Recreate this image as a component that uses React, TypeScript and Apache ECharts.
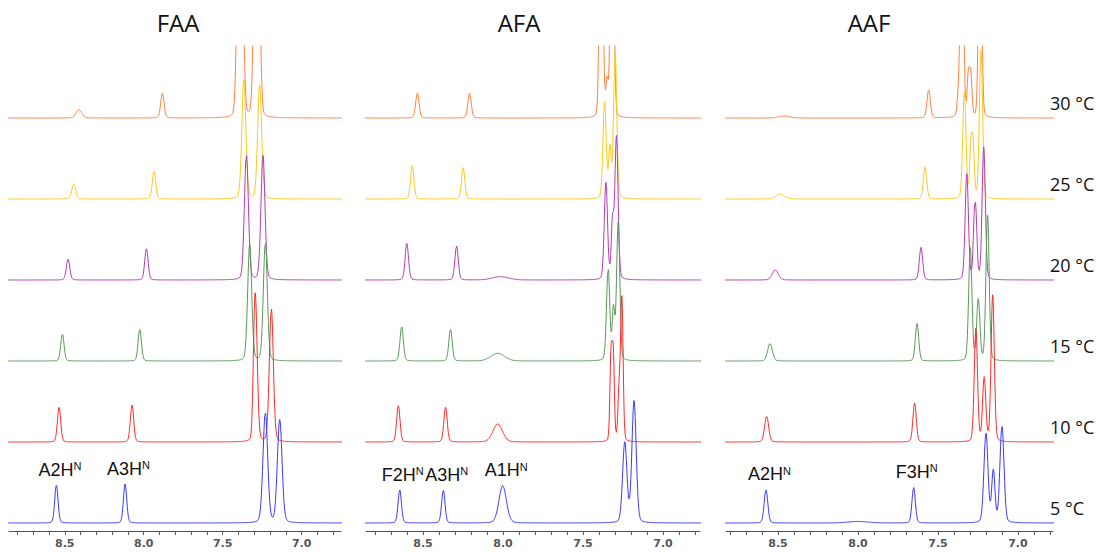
import React, { useEffect, useRef } from 'react';
import * as echarts from 'echarts';

// ---------- data ----------
const panelTitles = ['FAA', 'AFA', 'AAF'];
const temperatures = ['5 °C', '10 °C', '15 °C', '20 °C', '25 °C', '30 °C'];
// vertical stacking offset of each temperature trace (intensity units)
const traceOffsets = [8, 89, 170, 251, 332, 413];
const traceColors = ['#3a3aff', '#ff2a2a', '#5a9a5a', '#b43cb4', '#ffc820', '#ff8040'];
const xTickValues = [6.8, 6.9, 7.0, 7.1, 7.2, 7.3, 7.4, 7.5, 7.6, 7.7, 7.8, 7.9, 8.0, 8.1, 8.2, 8.3, 8.4, 8.5, 8.6, 8.7, 8.8];
const xLabelValues = [7.0, 7.5, 8.0, 8.5];
const panelPpmMin = [6.751, 6.769, 6.781];
const panelPpmMax = [8.853, 8.856, 8.825];

// peaks: [ppm, height, fwhm(ppm)]
const faa5 = [[8.553, 37.6, 0.025], [8.118, 39, 0.025], [7.23, 110, 0.035], [7.139, 103, 0.035]];
const faa10 = [[8.536, 34.7, 0.025], [8.074, 37, 0.025], [7.3, 60, 0.02], [7.29, 110, 0.026], [7.192, 133, 0.03]];
const faa15 = [[8.515, 27, 0.025], [8.025, 31.7, 0.025], [7.329, 117, 0.03], [7.23, 118, 0.03]];
const faa20 = [[8.479, 20.7, 0.026], [7.983, 31.7, 0.025], [7.35, 125, 0.03], [7.245, 125, 0.03]];
const faa25 = [[8.443, 14.7, 0.03], [7.935, 28, 0.025], [7.366, 119, 0.03], [7.266, 114, 0.03]];
const faa30 = [[8.41, 8, 0.045], [7.882, 25, 0.025], [7.402, 150, 0.026], [7.377, 150, 0.026], [7.296, 150, 0.026], [7.272, 150, 0.026]];

const afa5 = [[8.645, 33, 0.025], [8.373, 33, 0.025], [8.002, 37.3, 0.055], [7.239, 80, 0.032], [7.181, 121.6, 0.032]];
const afa10 = [[8.654, 36.3, 0.025], [8.359, 34.7, 0.025], [8.033, 18, 0.07], [7.325, 85, 0.016], [7.311, 85, 0.016], [7.274, 50, 0.018], [7.257, 141.6, 0.018]];
const afa15 = [[8.633, 34.3, 0.025], [8.328, 31.7, 0.025], [8.033, 7.7, 0.1], [7.343, 91, 0.024], [7.31, 50, 0.018], [7.28, 139, 0.024]];
const afa20 = [[8.601, 36.7, 0.025], [8.29, 34, 0.025], [8.016, 3.3, 0.12], [7.357, 96.7, 0.024], [7.316, 55, 0.018], [7.291, 143, 0.024]];
const afa25 = [[8.567, 33.3, 0.025], [8.249, 31.3, 0.025], [7.365, 97, 0.024], [7.332, 50, 0.018], [7.299, 146, 0.024]];
const afa30 = [[8.535, 25, 0.025], [8.209, 25, 0.025], [7.394, 140, 0.018], [7.379, 140, 0.018], [7.35, 35, 0.018], [7.325, 140, 0.018], [7.31, 140, 0.018]];

const aaf5 = [[8.575, 33.3, 0.027], [8.0, 1.5, 0.15], [7.652, 35.6, 0.025], [7.2, 89.6, 0.03], [7.154, 51.6, 0.024], [7.1, 96.6, 0.03]];
const aaf10 = [[8.571, 25.7, 0.03], [7.646, 39, 0.025], [7.263, 113, 0.024], [7.211, 63.4, 0.024], [7.158, 146.7, 0.024]];
const aaf15 = [[8.55, 17.4, 0.035], [7.631, 37.4, 0.025], [7.298, 113, 0.024], [7.248, 60.7, 0.024], [7.19, 146, 0.024]];
const aaf20 = [[8.517, 10, 0.045], [7.606, 32.6, 0.025], [7.32, 106, 0.024], [7.273, 50, 0.018], [7.262, 50, 0.018], [7.214, 132.6, 0.024]];
const aaf25 = [[8.487, 5, 0.065], [7.581, 32, 0.025], [7.335, 106.6, 0.024], [7.294, 50, 0.018], [7.28, 50, 0.018], [7.231, 148, 0.024]];
const aaf30 = [[8.46, 2, 0.08], [7.558, 28, 0.025], [7.372, 22, 0.018], [7.355, 140, 0.018], [7.345, 140, 0.018], [7.31, 40, 0.018], [7.295, 40, 0.018], [7.242, 140, 0.018], [7.231, 140, 0.018]];

const panelPeaks = [
  [faa5, faa10, faa15, faa20, faa25, faa30],
  [afa5, afa10, afa15, afa20, afa25, afa30],
  [aaf5, aaf10, aaf15, aaf20, aaf25, aaf30],
];

// peak assignment labels: [panel, text, ppm of peak]
const assignLabels: [number, string, number][] = [
  [0, 'A2H', 8.553], [0, 'A3H', 8.118],
  [1, 'F2H', 8.645], [1, 'A3H', 8.373], [1, 'A1H', 8.002],
  [2, 'A2H', 8.575], [2, 'F3H', 7.652],
];

// ---------- layout ----------
const GRID_TOP = 46;
const GRID_H = 485;
const gridLefts = [9, 366, 726];
const gridWidths = [332, 334, 327];
const titleCenters = [178, 519, 869];
const ETA = 0.15;

function lineShape(peaks: number[][], offset: number, min: number, max: number) {
  const pts: number[][] = [];
  const step = 0.0025;
  for (let x = min - 0.01; x <= max + 0.01; x += step) {
    let y = 0;
    for (const [c, h, w] of peaks) {
      const u = (x - c) / (w / 2);
      const u2 = u * u;
      y += h * (ETA / (1 + u2) + (1 - ETA) * Math.exp(-Math.LN2 * u2));
    }
    pts.push([+x.toFixed(4), offset + y]);
  }
  return pts;
}

export default function App() {
  const ref = useRef<HTMLDivElement>(null);
  useEffect(() => {
    const chart = echarts.init(ref.current!, null, { renderer: 'svg' });
    const grids: any[] = [];
    const xAxes: any[] = [];
    const yAxes: any[] = [];
    const series: any[] = [];
    const graphics: any[] = [];
    for (let p = 0; p < 3; p++) {
      grids.push({ left: gridLefts[p], width: gridWidths[p], top: GRID_TOP, height: GRID_H });
      xAxes.push({
        type: 'value', gridIndex: p, inverse: true,
        min: panelPpmMin[p], max: panelPpmMax[p],
        axisLine: { show: true, lineStyle: { color: '#555', width: 1 } },
        axisTick: { show: true, length: 4, customValues: xTickValues, lineStyle: { color: '#555' } },
        axisLabel: {
          show: true, customValues: xLabelValues, margin: 7,
          formatter: (v: number) => v.toFixed(1),
          fontSize: 11, fontWeight: 'bold', color: '#555', fontFamily: 'DejaVu Sans',
        },
        splitLine: { show: false },
      });
      yAxes.push({ type: 'value', gridIndex: p, min: 0, max: GRID_H, show: false });
      // draw from top trace (30 °C) down so lower traces are on top
      for (let t = 5; t >= 0; t--) {
        series.push({
          type: 'line', xAxisIndex: p, yAxisIndex: p,
          data: lineShape(panelPeaks[p][t], traceOffsets[t], panelPpmMin[p], panelPpmMax[p]),
          showSymbol: false, symbol: 'none', silent: true,
          lineStyle: { color: traceColors[t], width: 1 },
          clip: true,
        });
      }
      graphics.push({
        type: 'text', x: titleCenters[p], y: 22,
        style: { text: panelTitles[p], font: '24px "Open Sans"', fill: '#111', align: 'center', verticalAlign: 'middle' },
      });
    }
    const gridBottom = GRID_TOP + GRID_H;
    temperatures.forEach((t, i) => {
      graphics.push({
        type: 'text', x: 1050, y: gridBottom - traceOffsets[i] - 15,
        style: { text: t, font: '18px "Open Sans"', fill: '#111', align: 'left', verticalAlign: 'middle' },
      });
    });
    chart.setOption({
      animation: false,
      grid: grids,
      xAxis: xAxes,
      yAxis: yAxes,
      series,
    });
    // assignment labels placed above the 5 °C peaks via the axis scales
    assignLabels.forEach(([p, txt, ppm]) => {
      const peak = panelPeaks[p][0].find((q) => q[0] === ppm)!;
      const pt = chart.convertToPixel({ xAxisIndex: p, yAxisIndex: p } as any, [ppm, traceOffsets[0] + peak[1]]) as number[];
      graphics.push({
        type: 'text', x: pt[0] - 18, y: pt[1] - 14,
        style: {
          text: `{b|${txt}}{s|N}`,
          align: 'left', verticalAlign: 'middle',
          rich: {
            b: { fontSize: 18, fontFamily: 'Liberation Sans', fill: '#111', lineHeight: 21, verticalAlign: 'top' },
            s: { fontSize: 11, fontFamily: 'Liberation Sans', fill: '#111', lineHeight: 13, verticalAlign: 'top' },
          },
        },
      });
    });
    chart.setOption({ graphic: graphics });
    return () => chart.dispose();
  }, []);
  return (
    <div
      ref={ref}
      style={{ position: 'absolute', left: 0, top: 0, width: 1100, height: 552, background: '#fff' }}
    />
  );
}
